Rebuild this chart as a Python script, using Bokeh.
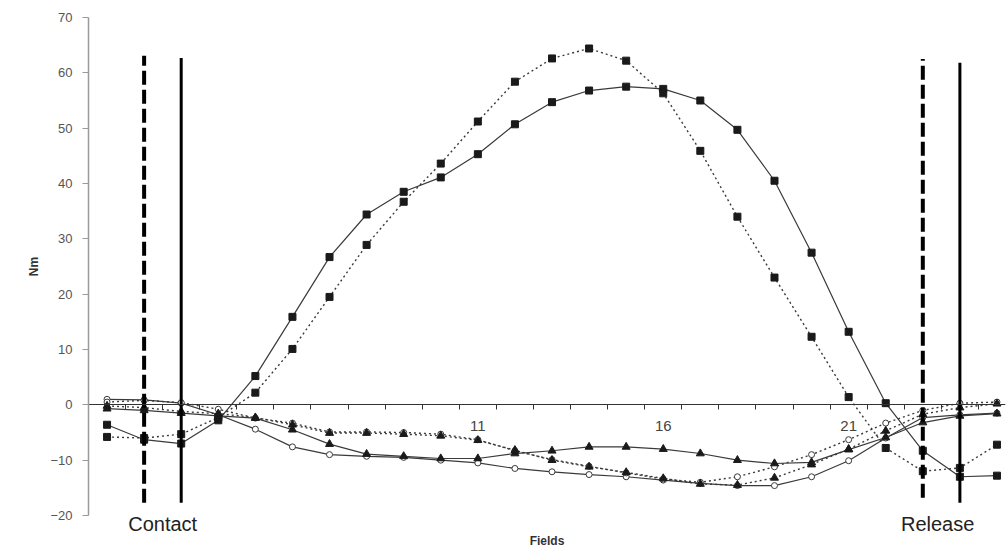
from bokeh.plotting import figure
from bokeh.models import LinearAxis, FixedTicker, Range1d
from bokeh.embed import file_html
from bokeh.resources import INLINE

# ---- data ----
fields = list(range(1, 26))
solid_sq = [-3.6, -6.3, -7.0, -2.8, 5.2, 15.9, 26.7, 34.4, 38.5, 41.1, 45.3, 50.7, 54.7,
            56.8, 57.5, 57.1, 55.0, 49.7, 40.5, 27.5, 13.2, 0.3, -8.3, -13.0, -12.8]
dotted_sq = [-5.8, -6.0, -5.3, -2.3, 2.2, 10.1, 19.5, 28.9, 36.7, 43.6, 51.2, 58.4, 62.6,
             64.4, 62.2, 56.3, 45.9, 34.0, 23.0, 12.3, 1.4, -7.8, -12.0, -11.4, -7.2]
solid_tri = [-0.7, -1.0, -1.5, -2.0, -2.4, -4.5, -7.1, -8.9, -9.3, -9.7, -9.7, -8.8, -8.3,
             -7.6, -7.6, -8.0, -8.8, -10.0, -10.6, -10.4, -8.1, -5.9, -3.2, -2.0, -1.6]
dotted_tri = [-0.2, -0.5, -1.2, -1.6, -2.3, -3.6, -5.1, -5.1, -5.3, -5.6, -6.4, -8.2, -10.0,
              -11.2, -12.2, -13.3, -14.3, -14.5, -13.2, -10.8, -8.0, -4.7, -1.7, -0.5, 0.2]
solid_circ = [1.0, 0.9, 0.3, -1.8, -4.4, -7.6, -9.0, -9.3, -9.5, -10.0, -10.5, -11.5, -12.1,
              -12.6, -13.0, -13.6, -14.2, -14.6, -14.6, -13.0, -10.1, -6.0, -2.3, -1.8, -1.5]
dotted_circ = [0.5, 0.8, 0.4, -0.8, -2.4, -3.3, -4.9, -4.9, -5.0, -5.3, -6.3, -8.3, -9.9,
               -11.1, -12.3, -13.4, -14.0, -13.0, -11.2, -9.0, -6.3, -3.3, -1.0, 0.3, 0.5]

y_ticks = [-20, -10, 0, 10, 20, 30, 40, 50, 60, 70]
x_label_ticks = [11, 16, 21]
event_names = ["Contact", "Release"]
event_label_pos = [2.5, 23.4]
dashed_fields = [2, 23]
dashed_bottom = [-17.7, -16.8]
dashed_top = [63.1, 62.5]
solid_fields = [3, 24]
solid_bottom = [-17.7, -17.7]
solid_top = [62.7, 61.8]

FONT = "Liberation Sans"
INK = "#1a1a1a"
LINE = "#3a3a3a"

p = figure(frame_width=917, frame_height=498,
           x_range=Range1d(0.5, 25.23), y_range=Range1d(-20, 70),
           output_backend="svg", toolbar_location=None,
           min_border_left=88, min_border_top=17, min_border_right=3, min_border_bottom=0,
           background_fill_color="white", border_fill_color="white")
p.grid.visible = False
p.outline_line_color = None

# y axis
ya = p.yaxis[0]
ya.ticker = FixedTicker(ticks=y_ticks, minor_ticks=[])
ya.axis_line_color = "#9a9a9a"
ya.axis_line_width = 1.5
ya.major_tick_line_color = "#9a9a9a"
ya.major_tick_in = 0
ya.major_tick_out = 6
ya.minor_tick_line_color = None
ya.major_label_text_font = FONT
ya.major_label_text_font_size = "13px"
ya.major_label_text_color = "#555555"
ya.major_label_standoff = 10
ya.axis_label = "Nm"
ya.axis_label_text_font = FONT
ya.axis_label_text_font_size = "12px"
ya.axis_label_text_font_style = "bold"
ya.axis_label_text_color = "#333333"
ya.axis_label_standoff = 6

# bottom axis: event names + title
xa = p.xaxis[0]
xa.ticker = FixedTicker(ticks=event_label_pos, minor_ticks=[])
xa.major_label_overrides = {pos: name for pos, name in zip(event_label_pos, event_names)}
xa.axis_line_color = None
xa.major_tick_line_color = None
xa.minor_tick_line_color = None
xa.major_tick_in = 0
xa.major_tick_out = 0
xa.major_label_standoff = -3
xa.major_label_text_font = FONT
xa.major_label_text_font_size = "20px"
xa.major_label_text_color = "#222222"
xa.axis_label = "Fields"
xa.axis_label_text_font = FONT
xa.axis_label_text_font_size = "12px"
xa.axis_label_text_font_style = "bold"
xa.axis_label_text_color = "#333333"
xa.axis_label_standoff = -4

# zero axis with category boundary ticks
boundaries = [f + 0.5 for f in fields[:-1]]
zero_axis = LinearAxis(fixed_location=0, ticker=FixedTicker(ticks=boundaries, minor_ticks=[]),
                       axis_line_color="#333333", axis_line_width=1,
                       major_tick_line_color="#333333", major_tick_in=0, major_tick_out=5,
                       minor_tick_line_color=None,
                       major_label_overrides={b: "" for b in boundaries},
                       major_label_text_color=None)
label_axis = LinearAxis(fixed_location=0, ticker=FixedTicker(ticks=x_label_ticks, minor_ticks=[]),
                        axis_line_color=None, major_tick_line_color=None,
                        minor_tick_line_color=None, major_tick_in=0, major_tick_out=0,
                        major_label_standoff=16,
                        major_label_text_font=FONT, major_label_text_font_size="15px",
                        major_label_text_color="#444444")
p.add_layout(zero_axis, "below")
p.add_layout(label_axis, "below")

# series lines
p.line(fields, solid_sq, line_color=LINE, line_width=1.2)
p.line(fields, dotted_sq, line_color=LINE, line_width=1.4, line_dash="2 3")
p.line(fields, solid_tri, line_color=LINE, line_width=1.2)
p.line(fields, dotted_tri, line_color=LINE, line_width=1.4, line_dash="2 3")
p.line(fields, solid_circ, line_color=LINE, line_width=1.2)
p.line(fields, dotted_circ, line_color=LINE, line_width=1.4, line_dash="2 3")

# markers
p.scatter(fields, solid_sq, marker="square", size=7, fill_color=INK, line_color=INK)
p.scatter(fields, dotted_sq, marker="square", size=7, fill_color=INK, line_color=INK)
p.scatter(fields, solid_circ, marker="circle", size=6, fill_color="white", line_color=LINE, line_width=1)
p.scatter(fields, dotted_circ, marker="circle", size=6, fill_color="white", line_color=LINE, line_width=1)
p.scatter(fields, solid_tri, marker="triangle", size=8, fill_color=INK, line_color=INK)
p.scatter(fields, dotted_tri, marker="triangle", size=8, fill_color=INK, line_color=INK)

# contact / release lines
p.segment(x0=dashed_fields, y0=dashed_bottom, x1=dashed_fields, y1=dashed_top,
          line_color="black", line_width=4, line_dash="14 5")
p.segment(x0=solid_fields, y0=solid_bottom, x1=solid_fields, y1=solid_top,
          line_color="black", line_width=3)

open("out.html", "w").write(file_html(p, INLINE))
